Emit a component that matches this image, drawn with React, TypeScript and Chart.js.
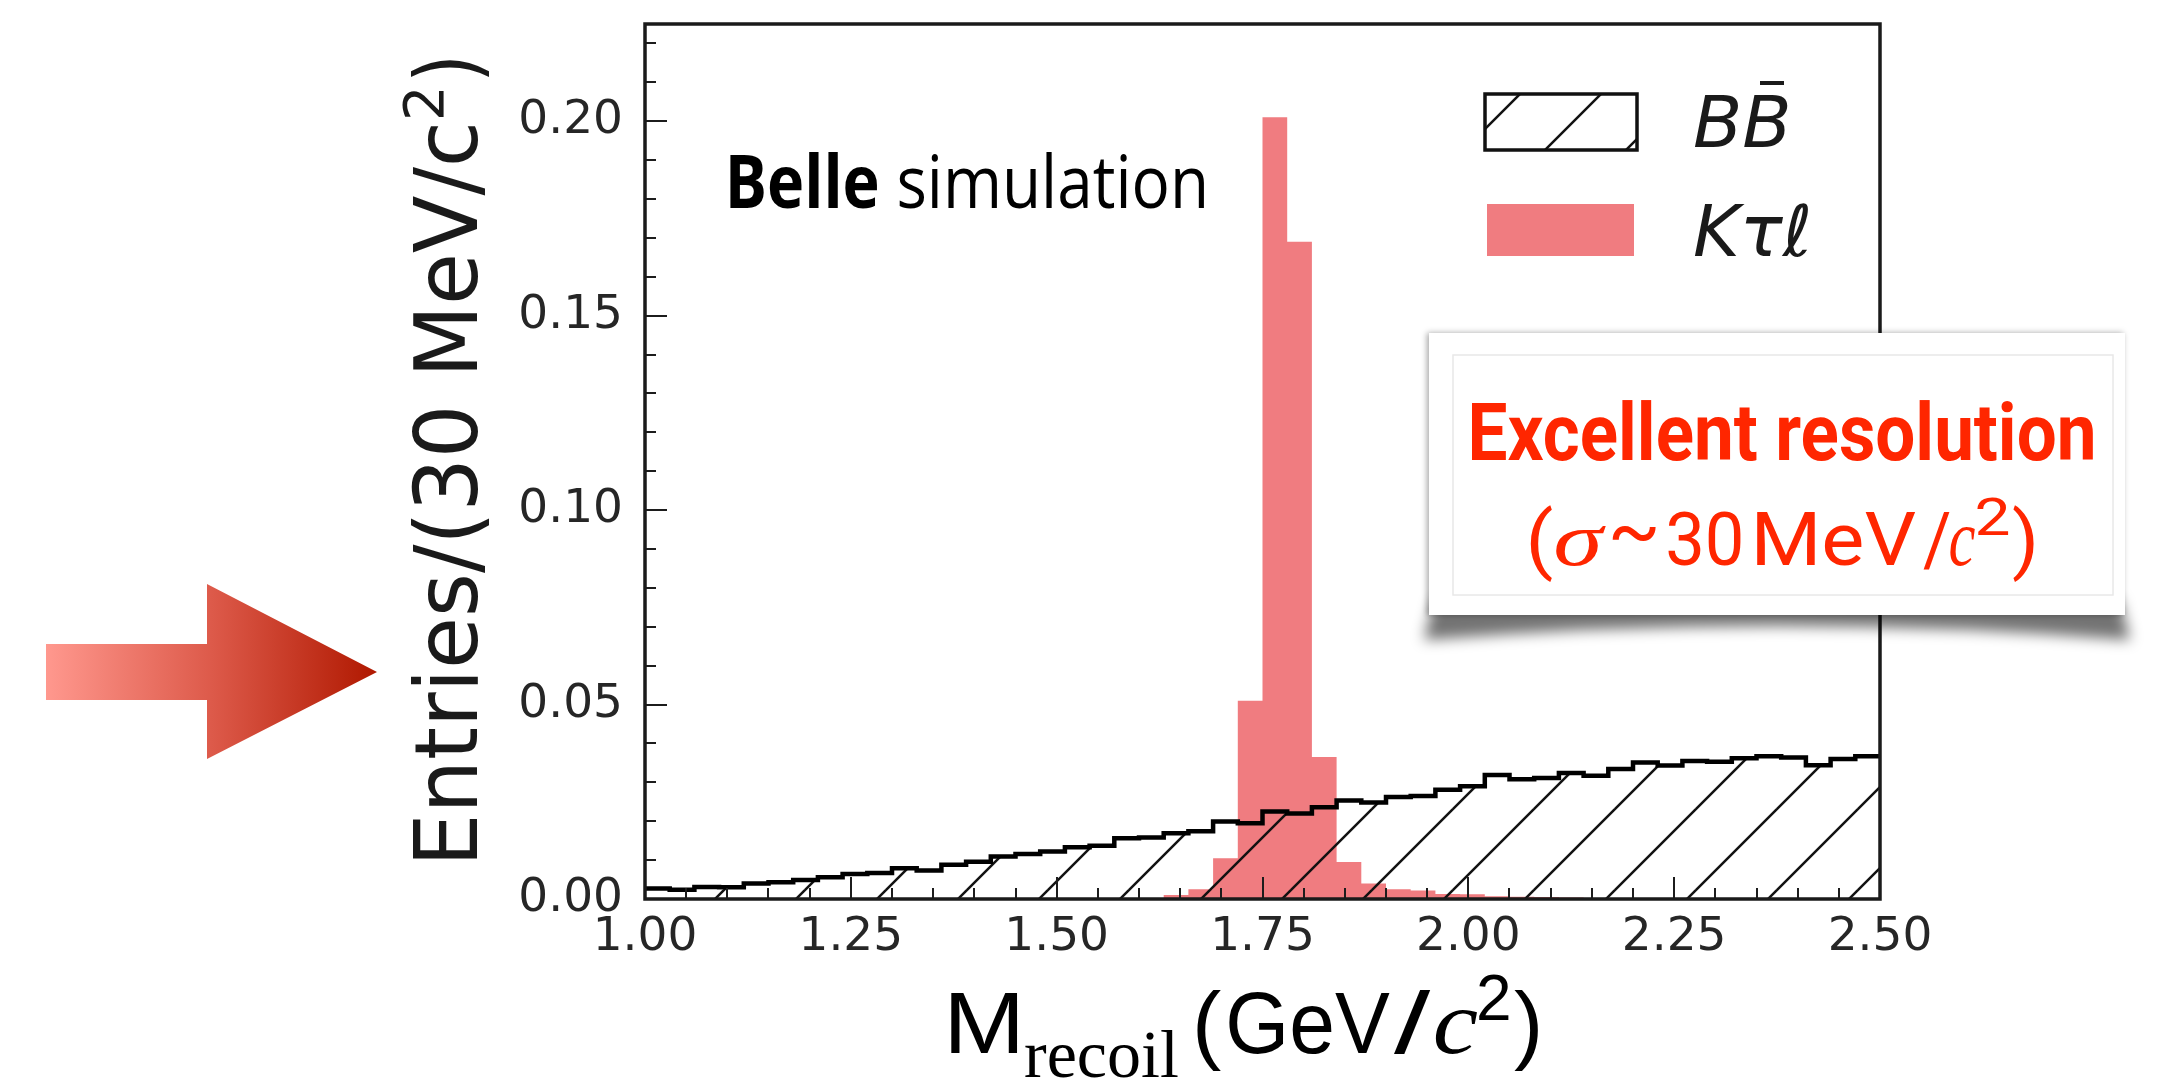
import React, { useEffect, useRef } from "react";
import { Chart, registerables } from "chart.js";

Chart.register(...registerables);

// ---------------- data ----------------
// histogram bin edges, M_recoil in GeV/c^2 (30 MeV bins)
const BIN_EDGES = [
  1.0, 1.03, 1.06, 1.09, 1.12, 1.15, 1.18, 1.21, 1.24, 1.27,
  1.3, 1.33, 1.36, 1.39, 1.42, 1.45, 1.48, 1.51, 1.54, 1.57,
  1.6, 1.63, 1.66, 1.69, 1.72, 1.75, 1.78, 1.81, 1.84, 1.87,
  1.9, 1.93, 1.96, 1.99, 2.02, 2.05, 2.08, 2.11, 2.14, 2.17,
  2.2, 2.23, 2.26, 2.29, 2.32, 2.35, 2.38, 2.41, 2.44, 2.47,
  2.5,
];

// B Bbar background, entries per bin
const BBBAR_VALUES = [
  0.0027, 0.0024, 0.0031, 0.003, 0.004, 0.0043, 0.0049, 0.0056, 0.0064, 0.0067,
  0.0079, 0.0073, 0.0088, 0.0096, 0.0109, 0.0116, 0.0122, 0.0133, 0.0137, 0.0156,
  0.0158, 0.0169, 0.0174, 0.0199, 0.0195, 0.0225, 0.022, 0.0236, 0.0253, 0.0248,
  0.0262, 0.0265, 0.0281, 0.029, 0.0319, 0.0308, 0.0311, 0.0324, 0.0317, 0.0334,
  0.0351, 0.0343, 0.0355, 0.0353, 0.0362, 0.0367, 0.0364, 0.0344, 0.036, 0.0367,
];

// K tau l signal, entries per bin
const KTL_VALUES = [
  0, 0, 0, 0, 0, 0, 0, 0, 0, 0,
  0, 0, 0, 0, 0, 0, 0, 0, 0, 0,
  0, 0.001, 0.0025, 0.0105, 0.051, 0.201, 0.169, 0.0365, 0.0095, 0.004,
  0.0025, 0.0022, 0.0013, 0.0012, 0.0007, 0.0006, 0.0005, 0.0004, 0.0002, 0,
  0, 0, 0, 0, 0, 0, 0, 0, 0, 0,
];

const X_TICKS = [1.0, 1.25, 1.5, 1.75, 2.0, 2.25, 2.5];
const Y_TICKS = [0.0, 0.05, 0.1, 0.15, 0.2];
const X_MINOR_STEP = 0.05;
const Y_MINOR_STEP = 0.01;
const X_MIN = 1.0;
const X_MAX = 2.5;
const Y_MIN = 0;
const Y_MAX = 0.225;

const LEGEND_LABELS = ["BB", "Kτℓ"];
const SIGNAL_COLOR = "rgb(240,124,128)";
const RED_TEXT = "#ff2600";

// ---------------- helpers ----------------
function fitText(
  ctx: CanvasRenderingContext2D,
  text: string,
  font: string,
  x: number,
  baseline: number,
  width: number | null,
  color: string
) {
  ctx.save();
  ctx.font = font;
  ctx.fillStyle = color;
  ctx.textAlign = "left";
  ctx.textBaseline = "alphabetic";
  const m = ctx.measureText(text);
  const vis = m.actualBoundingBoxLeft + m.actualBoundingBoxRight;
  const s = width ? width / vis : 1;
  ctx.translate(x, baseline);
  ctx.scale(s, 1);
  ctx.fillText(text, m.actualBoundingBoxLeft, 0);
  ctx.restore();
}

function makeHatch(ctx: CanvasRenderingContext2D): CanvasPattern | string {
  const H = 81;
  const tile = document.createElement("canvas");
  tile.width = H;
  tile.height = H;
  const t = tile.getContext("2d")!;
  t.strokeStyle = "#111";
  t.lineWidth = 2.5;
  for (const c of [0, H, 2 * H]) {
    t.beginPath();
    t.moveTo(c + 6, -6);
    t.lineTo(c - H - 6, H + 6);
    t.stroke();
  }
  const p = ctx.createPattern(tile, "repeat");
  if (!p) return "rgba(0,0,0,0)";
  p.setTransform(new DOMMatrix([1, 0, 0, 1, 75, 0]));
  return p;
}

// ---------------- component ----------------
export default function App() {
  const ref = useRef<HTMLCanvasElement>(null);

  useEffect(() => {
    const canvas = ref.current!;
    const ctx0 = canvas.getContext("2d")!;
    const hatch = makeHatch(ctx0);

    const bbPoints = BIN_EDGES.map((e, i) => ({
      x: e,
      y: BBBAR_VALUES[Math.min(i, BBBAR_VALUES.length - 1)],
    }));
    const kPoints = BIN_EDGES.map((e, i) => ({
      x: e,
      y: i < KTL_VALUES.length ? KTL_VALUES[i] : 0,
    }));

    const decor = {
      id: "decor",
      afterDatasetsDraw(chart: any) {
        const { ctx, chartArea: a, scales } = chart;
        const xs = scales.x;
        const ys = scales.y;
        ctx.save();
        ctx.strokeStyle = "#1c1c1c";
        ctx.lineWidth = 2;
        // inward minor / major ticks on bottom axis
        const nx = Math.round((X_MAX - X_MIN) / X_MINOR_STEP);
        for (let i = 0; i <= nx; i++) {
          const v = X_MIN + i * X_MINOR_STEP;
          const major = X_TICKS.some((t) => Math.abs(t - v) < 1e-6);
          const px = Math.round(xs.getPixelForValue(v));
          ctx.beginPath();
          ctx.moveTo(px, a.bottom);
          ctx.lineTo(px, a.bottom - (major ? 22 : 11));
          ctx.stroke();
        }
        const ny = Math.floor((Y_MAX - Y_MIN) / Y_MINOR_STEP + 1e-6);
        for (let i = 0; i <= ny; i++) {
          const v = Y_MIN + i * Y_MINOR_STEP;
          const major = Y_TICKS.some((t) => Math.abs(t - v) < 1e-6);
          const py = Math.round(ys.getPixelForValue(v));
          ctx.beginPath();
          ctx.moveTo(a.left, py);
          ctx.lineTo(a.left + (major ? 22 : 11), py);
          ctx.stroke();
        }
        // frame
        ctx.lineWidth = 3.5;
        ctx.strokeStyle = "#1a1a1a";
        ctx.strokeRect(a.left, a.top, a.right - a.left, a.bottom - a.top);
        ctx.restore();
      },
      afterDraw(chart: any) {
        const { ctx } = chart;
        ctx.save();

        // ----- legend -----
        ctx.fillStyle = "#fff";
        ctx.fillRect(1485, 94, 152, 56);
        ctx.fillStyle = hatch;
        ctx.fillRect(1485, 94, 152, 56);
        ctx.lineWidth = 3.5;
        ctx.strokeStyle = "#111";
        ctx.strokeRect(1485, 94, 152, 56);
        fitText(ctx, LEGEND_LABELS[0], "italic 71px 'DejaVu Sans'", 1694, 147, 94, "#1a1a1a");
        ctx.fillStyle = "#1a1a1a";
        ctx.fillRect(1760, 81, 24, 4);

        ctx.fillStyle = SIGNAL_COLOR;
        ctx.fillRect(1487, 204, 147, 52);
        fitText(ctx, LEGEND_LABELS[1], "italic 71px 'DejaVu Sans'", 1694, 256, 115, "#1a1a1a");

        // ----- Belle simulation -----
        fitText(ctx, "Belle", "bold 73px 'Open Sans'", 730, 208, 147, "#000");
        fitText(ctx, "simulation", "73px 'Open Sans'", 899, 208, 305, "#000");

        // ----- y axis title (rotated) -----
        ctx.save();
        ctx.translate(477, 859);
        ctx.rotate(-Math.PI / 2);
        fitText(ctx, "Entries/(30 MeV/c", "88px 'DejaVu Sans'", 0, 0, 733, "#1a1a1a");
        fitText(ctx, "2", "56px 'DejaVu Sans'", 742, -34, 27, "#1a1a1a");
        fitText(ctx, ")", "88px 'DejaVu Sans'", 782, 0, 17, "#1a1a1a");
        ctx.restore();

        // ----- x axis title -----
        fitText(ctx, "M", "88px 'Liberation Sans'", 951, 1053, 67, "#000");
        fitText(ctx, "recoil", "68px 'Liberation Serif'", 1025, 1077, 153, "#000");
        fitText(ctx, "(", "88px 'Liberation Sans'", 1197, 1053, 24, "#000");
        fitText(ctx, "GeV", "88px 'Liberation Sans'", 1229, 1053, 161, "#000");
        fitText(ctx, "/", "88px 'Liberation Sans'", 1394, 1053, 37, "#000");
        fitText(ctx, "c", "italic 90px 'Liberation Serif'", 1435, 1053, 42, "#000");
        fitText(ctx, "2", "64px 'Liberation Sans'", 1479, 1020, 30, "#000");
        fitText(ctx, ")", "88px 'Liberation Sans'", 1514, 1053, 24, "#000");

        // ----- callout box -----
        ctx.save();
        ctx.filter = "blur(7px)";
        ctx.fillStyle = "rgba(0,0,0,0.55)";
        ctx.beginPath();
        ctx.moveTo(1434, 600);
        ctx.lineTo(2120, 600);
        ctx.lineTo(2130, 640);
        ctx.quadraticCurveTo(1777, 612, 1424, 640);
        ctx.closePath();
        ctx.fill();
        ctx.restore();

        ctx.save();
        ctx.shadowColor = "rgba(0,0,0,0.35)";
        ctx.shadowBlur = 6;
        ctx.shadowOffsetX = -2;
        ctx.shadowOffsetY = 0;
        ctx.fillStyle = "#fff";
        ctx.fillRect(1429, 333, 696, 282);
        ctx.restore();
        ctx.strokeStyle = "#e8e8e8";
        ctx.lineWidth = 1.5;
        ctx.strokeRect(1453, 355, 660, 240);

        fitText(ctx, "Excellent resolution", "bold 80px Roboto", 1472, 460, 621, RED_TEXT);
        fitText(ctx, "(", "74px Roboto", 1530, 565, 22, RED_TEXT);
        fitText(ctx, "σ", "italic 76px 'Liberation Serif'", 1556, 565, 50, RED_TEXT);
        fitText(ctx, "~", "74px Roboto", 1612, 556, 44, RED_TEXT);
        fitText(ctx, "30", "74px Roboto", 1668, 565, 73, RED_TEXT);
        fitText(ctx, "MeV", "74px Roboto", 1757, 565, 159, RED_TEXT);
        fitText(ctx, "/", "74px Roboto", 1923, 565, 27, RED_TEXT);
        fitText(ctx, "c", "italic 80px 'Liberation Serif'", 1950, 565, 25, RED_TEXT);
        fitText(ctx, "2", "52px Roboto", 1977, 535, 32, RED_TEXT);
        fitText(ctx, ")", "74px Roboto", 2013, 565, 21, RED_TEXT);

        // ----- arrow -----
        const g = ctx.createLinearGradient(46, 0, 377, 0);
        g.addColorStop(0, "#ff988e");
        g.addColorStop(0.5, "#dd5a4a");
        g.addColorStop(1, "#b01800");
        ctx.fillStyle = g;
        ctx.beginPath();
        ctx.moveTo(46, 644);
        ctx.lineTo(207, 644);
        ctx.lineTo(207, 584);
        ctx.lineTo(377, 672);
        ctx.lineTo(207, 759);
        ctx.lineTo(207, 700);
        ctx.lineTo(46, 700);
        ctx.closePath();
        ctx.fill();

        ctx.restore();
      },
    };

    const chart = new Chart(canvas, {
      type: "line",
      data: {
        datasets: [
          {
            label: "BB̄",
            data: bbPoints,
            stepped: true,
            borderColor: "#000",
            borderWidth: 4.5,
            borderJoinStyle: "miter",
            backgroundColor: hatch as any,
            fill: "origin",
            pointRadius: 0,
            order: 0,
          },
          {
            label: "Kτℓ",
            data: kPoints,
            stepped: true,
            borderColor: "rgba(0,0,0,0)",
            borderWidth: 0,
            backgroundColor: SIGNAL_COLOR,
            fill: "origin",
            pointRadius: 0,
            order: 1,
          },
        ],
      },
      options: {
        responsive: false,
        animation: false,
        devicePixelRatio: 1,
        events: [],
        layout: { padding: { left: 0, top: 24, right: 293, bottom: 0 } },
        plugins: {
          legend: { display: false },
          tooltip: { enabled: false },
          title: { display: false },
        },
        scales: {
          x: {
            type: "linear",
            min: X_MIN,
            max: X_MAX,
            afterBuildTicks: (s: any) => {
              s.ticks = X_TICKS.map((v) => ({ value: v }));
            },
            afterFit: (s: any) => {
              s.height = 180;
              s.paddingLeft = 0;
              s.paddingRight = 0;
            },
            ticks: {
              callback: (v: any) => Number(v).toFixed(2),
              font: { family: "'DejaVu Sans'", size: 47 },
              color: "#262626",
              padding: 11,
              maxRotation: 0,
              autoSkip: false,
            },
            grid: { display: false, drawTicks: false },
            border: { display: false },
          },
          y: {
            type: "linear",
            min: Y_MIN,
            max: Y_MAX,
            afterBuildTicks: (s: any) => {
              s.ticks = Y_TICKS.map((v) => ({ value: v }));
            },
            afterFit: (s: any) => {
              s.width = 645;
              s.paddingTop = 0;
              s.paddingBottom = 0;
            },
            ticks: {
              callback: (v: any) => Number(v).toFixed(2),
              font: { family: "'DejaVu Sans'", size: 47 },
              color: "#262626",
              padding: 22,
              autoSkip: false,
            },
            grid: { display: false, drawTicks: false },
            border: { display: false },
          },
        },
      },
      plugins: [decor],
    });

    return () => chart.destroy();
  }, []);

  return (
    <div style={{ position: "absolute", left: 0, top: 0, width: 2173, height: 1079, background: "#fff" }}>
      <canvas ref={ref} width={2173} height={1079} style={{ display: "block" }} />
    </div>
  );
}
